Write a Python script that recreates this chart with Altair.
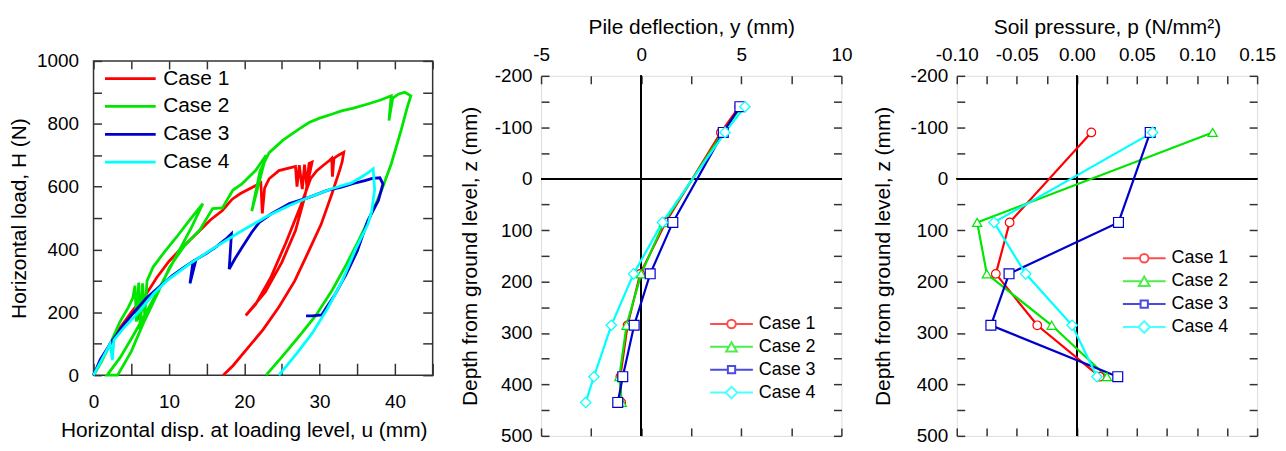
import altair as alt
import pandas as pd

FONT = "Liberation Sans"
cases = ["Case 1", "Case 2", "Case 3", "Case 4"]
colors = ["#ff0000", "#00e600", "#0000cd", "#00ffff"]

# ---------------- Panel 1: load - displacement ----------------
c1_u = [0, 1, 2.2, 3.5, 5, 5.6, 6.1, 6.5, 7.1, 8.4, 10, 11.5, 12.8, 14.1, 15.5, 17.1, 18.4, 19.5, 21.1, 22.2,
        22.4, 22.7, 23.3, 24.6, 26.3, 26.8, 27.0, 27.3, 27.7, 28.0, 28.3, 28.6, 29.0,
        28.0, 26.8, 25.0, 22.8, 20.2, 21.5, 23.5, 25.5, 27.5, 28.8, 29.6, 30.5, 31.3, 31.6, 31.7, 31.9, 32.5, 33.2,
        33.0, 32.7, 31.6, 30.2, 28.6, 26.7, 24.6, 22.5, 20.2, 18.5, 17.2]
c1_H = [0, 45, 100, 150, 200, 218, 178, 232, 262, 311, 362, 400, 430, 460, 494, 524, 560, 578, 598, 612,
        515, 595, 625, 651, 661, 664, 600, 668, 592, 670, 602, 674, 678,
        565, 460, 360, 265, 190, 225, 310, 420, 540, 625, 650, 668, 683, 690, 632, 690, 700, 709,
        680, 655, 575, 480, 397, 300, 217, 145, 79, 30, 0]

c2_u = [0, 1, 2.24, 3.5, 4.6, 5.2, 5.5, 5.7, 6.0, 6.2, 6.5, 6.8, 7.1, 7.9, 9.5, 11.0, 12.8, 14.5,
        13, 11, 9, 7, 5, 3.5, 1.8, 3.2, 5, 6.6, 8.5, 10.1, 12, 14.1, 15.8, 17.1, 18.5, 19.7, 21.5, 22.9,
        21.0, 22.1, 23.3, 24.6, 25.1, 26, 27.3, 28.6, 30, 31.7, 32.9, 34.5, 36.4, 38, 39.5, 39.2, 39.7,
        40.5, 41.3, 42.1, 41.6, 40.8, 39.5, 38.2, 37, 35.2, 33.5, 31.7, 29.5, 27.3, 25, 22.9]
c2_H = [0, 40, 101, 170, 215, 245, 285, 170, 295, 140, 292, 190, 300, 344, 395, 439, 495, 546,
        470, 380, 290, 200, 115, 55, 0, 0, 75, 165, 260, 344, 410, 462, 530, 532, 589, 609, 651, 700,
        522, 650, 708, 736, 747, 762, 784, 804, 818, 831, 841, 850, 863, 875, 889, 810, 882,
        895, 900, 889, 850, 778, 672, 587, 520, 430, 350, 272, 190, 124, 58, 0]

c3_u = [0, 0.9, 2.5, 4, 5.3, 7, 8.8, 10.5, 12, 13.2, 12.8, 13.6, 15, 16.3, 17.5, 18.3, 18.0, 18.8, 19.7,
        21, 22, 23.5, 26, 28.6, 31, 32.9, 34.5, 36, 37, 38, 38.4, 37.8, 36.4, 35.0, 33.5, 32.0, 30.9,
        30.3, 29, 28.2]
c3_H = [0, 50, 110, 160, 198, 245, 283, 318, 343, 362, 292, 368, 388, 409, 432, 450, 338, 372, 406,
        455, 486, 512, 546, 566, 588, 598, 610, 619, 626, 628, 609, 556, 492, 395, 320, 255, 215,
        192, 189, 189]

c4_u = [0, 1, 2.2, 2.5, 2.7, 4, 6.2, 8, 9.7, 12.8, 16, 19.3, 22.9, 26, 28.6, 31.7, 34.2, 35.5, 36.5,
        37.1, 37.3, 36.9, 36.4, 34.7, 33, 31, 29, 27, 24.6]
c4_H = [0, 45, 100, 48, 112, 150, 206, 260, 300, 355, 405, 454, 504, 540, 566, 594, 612, 630, 645,
        657, 590, 520, 480, 397, 300, 210, 133, 70, 0]

# ---------------- Panel 2: pile deflection ----------------
defl_depth = [-140, -90, 85, 185, 285, 385, 435]
defl_c1 = [4.90, 3.98, 1.22, -0.05, -0.68, -1.04, -1.00]
defl_c2 = [5.00, 4.08, 1.14, 0.00, -0.73, -1.09, -0.97]
defl_c3 = [4.93, 4.10, 1.58, 0.45, -0.35, -0.92, -1.17]
defl_c4 = [5.18, 4.19, 1.06, -0.38, -1.49, -2.36, -2.77]

# ---------------- Panel 3: soil pressure ----------------
p_depth = [-90, 85, 185, 285, 385]
p_c1 = [0.012, -0.056, -0.0675, -0.033, 0.019]
p_c2 = [0.113, -0.083, -0.075, -0.021, 0.025]
p_c3 = [0.061, 0.0346, -0.0565, -0.0716, 0.034]
p_c4 = [0.063, -0.069, -0.0426, -0.004, 0.0167]

# tick value lists
load_u_ticks = [0, 5, 10, 15, 20, 25, 30, 35, 40, 45]
load_H_ticks = [0, 100, 200, 300, 400, 500, 600, 700, 800, 900, 1000]
depth_ticks = [-200, -150, -100, -50, 0, 50, 100, 150, 200, 250, 300, 350, 400, 450, 500]
defl_ticks = [-5, -2.5, 0, 2.5, 5, 7.5, 10]
p_ticks = [-0.1, -0.075, -0.05, -0.025, 0, 0.025, 0.05, 0.075, 0.1, 0.125, 0.15]

marker_shapes = ["circle", "triangle-up", "square", "diamond"]
marker_sizes = [75, 110, 55, 135]
legend_paths = [
    "M-1,0L-0.2,0M0.2,0L1,0M0.2,0A0.2,0.2,0,1,1,-0.2,0A0.2,0.2,0,1,1,0.2,0",
    "M-1,0L-0.13,0M0.13,0L1,0M0,-0.22L0.25,0.22L-0.25,0.22Z",
    "M-1,0L-0.17,0M0.17,0L1,0M-0.17,-0.17L0.17,-0.17L0.17,0.17L-0.17,0.17Z",
    "M-1,0L-0.27,0M0.27,0L1,0M0,-0.27L0.27,0L0,0.27L-0.27,0Z",
]

load_rows = []
for case, us, hs in zip(cases, [c1_u, c2_u, c3_u, c4_u], [c1_H, c2_H, c3_H, c4_H]):
    for i, (u, h) in enumerate(zip(us, hs)):
        load_rows.append({"case": case, "u": u, "H": h, "i": i})
df_load = pd.DataFrame(load_rows)

defl_rows = []
for case, vals in zip(cases, [defl_c1, defl_c2, defl_c3, defl_c4]):
    for i, (z, y) in enumerate(zip(defl_depth, vals)):
        defl_rows.append({"case": case, "z": z, "y": y, "i": i})
df_defl = pd.DataFrame(defl_rows)

p_rows = []
for case, vals in zip(cases, [p_c1, p_c2, p_c3, p_c4]):
    for i, (z, p) in enumerate(zip(p_depth, vals)):
        p_rows.append({"case": case, "z": z, "p": p, "i": i})
df_p = pd.DataFrame(p_rows)


def ax(orient, values, title=None, labels=True, label_expr=None, label_pad=8, title_pad=8,
       tick=8, offset=None, **kw):
    if offset is None:
        offset = -tick
    d = dict(orient=orient, values=values, tickSize=tick, offset=offset, domain=False, grid=False,
             tickColor="#333333", tickWidth=1.5, labelFont=FONT, labelFontSize=19,
             labelColor="#000000", labelPadding=label_pad, labelOverlap=False, labelFlush=False,
             titleFont=FONT, titleFontSize=21, titleFontWeight="normal", titleColor="#000000",
             titlePadding=title_pad, title=title, labels=labels)
    if label_expr:
        d["labelExpr"] = label_expr
    d.update(kw)
    return alt.Axis(**d)


def int_expr(step):
    return f"datum.value % {step} == 0 ? '' + datum.value : ''"


p_expr = ("abs(round(datum.value*1000)) % 50 == 0 ? "
          "replace(format(datum.value, '.2f'), '\u2212', '-') : ''")

stroke_scale = alt.Scale(domain=cases, range=colors)

# ---------- left panel ----------
# the left plot is 316 px tall and sits 15 px higher than the other two panels
LEFT_H = 301
LEFT_RAISE = 15
sx1 = alt.Scale(domain=[0, 45], nice=False, zero=False)
sy1 = alt.Scale(domain=[0, 1000], nice=False, zero=False, range=[LEFT_H, -LEFT_RAISE])

frame_df = pd.DataFrame({"k": [0]})
left_frame = alt.Chart(frame_df).mark_rect(fill="transparent", stroke="#333333", strokeWidth=1.5).encode(
    x=alt.datum(0, scale=sx1, axis=None), x2=alt.datum(45),
    y=alt.datum(0, scale=sy1, axis=None), y2=alt.datum(1000),
)
left_lines = alt.Chart(df_load).mark_line(strokeWidth=2.8, clip=False).encode(
    x=alt.X("u:Q", scale=sx1, axis=ax("bottom", load_u_ticks, "Horizontal disp. at loading level, u (mm)",
                                       label_expr=int_expr(10), label_pad=17, title_pad=9, titleX=151,
                                       tick=12)),
    y=alt.Y("H:Q", scale=sy1, axis=ax("left", load_H_ticks, "Horizontal load, H (N)",
                                       label_expr=int_expr(200), label_pad=15, title_pad=7)),
    color=alt.Color("case:N", scale=stroke_scale,
                    legend=alt.Legend(title=None, orient="none", legendX=10, legendY=-11, padding=0,
                                      symbolType="stroke", symbolSize=2601, symbolStrokeWidth=2.8,
                                      labelFont=FONT, labelFontSize=21, labelColor="#000000",
                                      labelOffset=6, rowPadding=0, clipHeight=27.6)),
    detail="case:N",
    order="i:Q",
)
left_mirror = alt.Chart(df_load).transform_filter("false").mark_point().encode(
    x=alt.X("u:Q", scale=sx1, axis=ax("top", load_u_ticks, None, labels=False, tick=8,
                                       offset=-8 + LEFT_RAISE)),
    y=alt.Y("H:Q", scale=sy1, axis=ax("right", load_H_ticks, None, labels=False, tick=10)),
)
left = alt.layer(left_frame, left_lines, left_mirror).resolve_axis(
    x="independent", y="independent").properties(
    width=341, height=LEFT_H, view=alt.ViewBackground(stroke="transparent"))


def depth_panel(df, xfield, xscale, xticks, xexpr, xtitle, legend_x, legend_y, ytitle_pad):
    sy = alt.Scale(domain=[-200, 500], nice=False, zero=False, reverse=True)
    lines = alt.Chart(df).mark_line(strokeWidth=2.2).encode(
        x=alt.X(f"{xfield}:Q", scale=xscale, axis=ax("top", xticks, xtitle, label_expr=xexpr,
                                                      label_pad=11, title_pad=9)),
        y=alt.Y("z:Q", scale=sy, axis=ax("left", depth_ticks, "Depth from ground level, z (mm)",
                                          label_expr=int_expr(100), label_pad=9, title_pad=ytitle_pad)),
        stroke=alt.Stroke("case:N", scale=stroke_scale, legend=None),
        detail="case:N",
        order="i:Q",
    )
    mirror = alt.Chart(df).transform_filter("false").mark_point().encode(
        x=alt.X(f"{xfield}:Q", scale=xscale, axis=ax("bottom", xticks, None, labels=False)),
        y=alt.Y("z:Q", scale=sy, axis=ax("right", depth_ticks, None, labels=False)),
    )
    vrule = alt.Chart(df).mark_rule(color="#000000", strokeWidth=1).encode(
        x=alt.datum(0, scale=xscale, axis=None))
    hrule = alt.Chart(df).mark_rule(color="#000000", strokeWidth=1).encode(
        y=alt.datum(0, scale=sy, axis=None))
    points = alt.Chart(df).mark_point(filled=True, strokeWidth=1.2, opacity=1).encode(
        x=alt.X(f"{xfield}:Q", scale=xscale, axis=None),
        y=alt.Y("z:Q", scale=sy, axis=None),
        stroke=alt.Stroke("case:N", scale=stroke_scale, legend=None),
        fill=alt.value("#ffffff"),
        shape=alt.Shape("case:N", scale=alt.Scale(domain=cases, range=marker_shapes), legend=None),
        size=alt.Size("case:N", scale=alt.Scale(domain=cases, range=marker_sizes), legend=None),
    )
    legopts = dict(title=None, orient="none", legendX=legend_x, legendY=legend_y, padding=0,
                   symbolSize=1849, symbolStrokeWidth=2, labelFont=FONT, labelFontSize=18,
                   labelColor="#000000", labelOffset=5, rowPadding=0, clipHeight=23)
    leg = alt.Chart(df).transform_filter("false").mark_point(size=1849, strokeWidth=2, filled=False).encode(
        color=alt.Color("case:N", scale=alt.Scale(domain=cases, range=colors), legend=alt.Legend(**legopts)),
        shape=alt.Shape("case:N", scale=alt.Scale(domain=cases, range=legend_paths),
                        legend=alt.Legend(**legopts)),
    )
    return alt.layer(vrule, hrule, mirror, lines, points, leg).resolve_axis(
        x="independent", y="independent").resolve_scale(
        shape="independent", color="independent", size="independent").properties(width=302, height=362)


mid = depth_panel(df_defl, "y", alt.Scale(domain=[-5, 10], nice=False, zero=False), defl_ticks,
                  "datum.value % 5 == 0 ? '' + datum.value : ''", "Pile deflection, y (mm)", 169, 238, 14)
right = depth_panel(df_p, "p", alt.Scale(domain=[-0.1, 0.15], nice=False, zero=False), p_ticks,
                    p_expr, "Soil pressure, p (N/mm\u00b2)", 166, 172, 17)

chart = alt.hconcat(
    alt.vconcat(left),
    alt.hconcat(mid, right, spacing=18),
    spacing=24,
).properties(
    padding={"left": 0, "top": 6, "right": 2, "bottom": 0}
).configure_view(stroke="#333333", strokeWidth=1.5).configure(font=FONT)

chart.save("out.html", embed_options={"renderer": "svg", "actions": False})
